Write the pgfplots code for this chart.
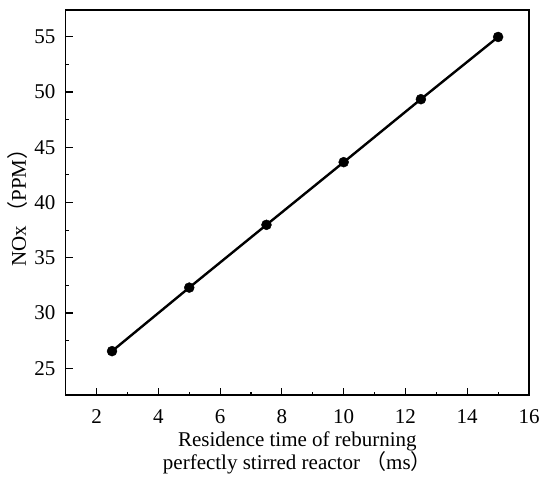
\documentclass[border=0pt]{standalone}
\usepackage{fontspec}
\setmainfont{Liberation Serif}
\newfontfamily\cjk{Noto Sans CJK SC}
\usepackage{pgfplots}
\pgfplotsset{compat=1.18}
\begin{document}
\fontsize{21}{23}\selectfont
\begin{tikzpicture}
\begin{axis}[
  scale only axis,
  width=463.3pt, height=385pt,
  xmin=1, xmax=16, ymin=22.58, ymax=57.42,
  xtick={2,4,...,16}, ytick={25,30,...,55},
  minor x tick num=1, minor y tick num=1,
  tick align=inside, xtick pos=bottom, ytick pos=left,
  major tick length=7pt, minor tick length=3.5pt,
  axis line style={line width=1.1pt},
  tick style={line width=1.1pt, black},
  /pgf/number format/assume math mode=true,
  ticklabel style={font=\fontsize{21}{23}\selectfont},
  xticklabel style={inner sep=0pt, anchor=north, yshift=-14pt},
  yticklabel style={inner sep=0pt, anchor=east, xshift=-10pt},
  xlabel={Residence time of reburning\\perfectly stirred reactor\ {\cjk （}ms{\cjk ）}},
  xlabel style={align=center, font=\fontsize{21}{23}\selectfont, inner sep=0pt,
    at={(axis description cs:0.5,-0.0948)}, anchor=north},
  ylabel={NOx\,{\cjk （}PPM{\cjk ）}},
  ylabel style={font=\fontsize{21}{23}\selectfont, inner sep=0pt,
    at={(axis description cs:-0.0857,0.5)}, anchor=base},
]
\addplot[black, line width=2.4pt, mark=*, mark size=5pt, mark options={line width=0.4pt, fill=black}]
  coordinates {(2.5,26.55) (5,32.30) (7.5,37.98) (10,43.65) (12.5,49.35) (15,54.98)};
\coordinate (sw) at (rel axis cs:0,0);
\coordinate (ne) at (rel axis cs:1,1);
\end{axis}
\pgfresetboundingbox
\path[use as bounding box] ([shift={(-65.7pt,-91pt)}]sw) rectangle ([shift={(21pt,10pt)}]ne);
\end{tikzpicture}
\end{document}
